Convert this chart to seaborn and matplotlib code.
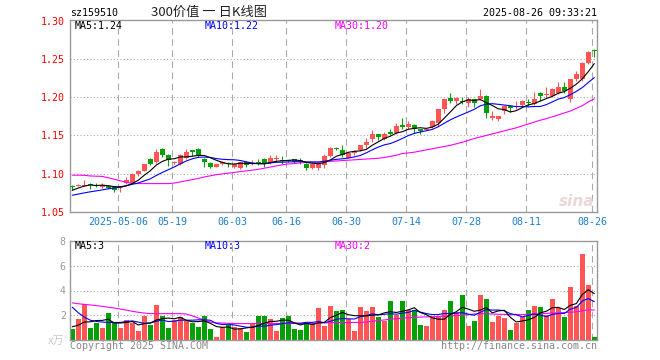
import numpy as np
import pandas as pd
import matplotlib
matplotlib.use("Agg")
import matplotlib.pyplot as plt
import seaborn as sns

sns.set_style("white")
plt.rcParams['font.family'] = ['DejaVu Sans Mono', 'Noto Sans CJK SC']

# ---------------- data ----------------
opens = [1.083, 1.084, 1.084, 1.086, 1.085, 1.082, 1.084, 1.082, 1.081, 1.087,
         1.087, 1.099, 1.1035, 1.119, 1.1155, 1.132, 1.124, 1.114, 1.112, 1.120,
         1.1305, 1.132, 1.119, 1.114, 1.109, 1.112, 1.114, 1.108, 1.107, 1.1155,
         1.113, 1.1145, 1.119, 1.1135, 1.1195, 1.118, 1.117, 1.1185, 1.1175, 1.113,
         1.1066, 1.1066, 1.1118, 1.1232, 1.1325, 1.1307, 1.121, 1.1263, 1.1307, 1.1373,
         1.1447, 1.1513, 1.1452, 1.1544, 1.1526, 1.1636, 1.1605, 1.1636, 1.1579, 1.157,
         1.1605, 1.1667, 1.1842, 1.1996, 1.1952, 1.1952, 1.193, 1.1974, 1.1974, 1.2018,
         1.1724, 1.1711, 1.182, 1.189, 1.1868, 1.1899, 1.1934, 1.1908, 1.2061, 1.203,
         1.2018, 1.2053, 1.2132, 1.1974, 1.2237, 1.2237, 1.2447, 1.2614]
highs = [1.085, 1.086, 1.091, 1.088, 1.088, 1.087, 1.085, 1.083, 1.084, 1.096,
         1.101, 1.104, 1.113, 1.120, 1.132, 1.133, 1.125, 1.116, 1.125, 1.132,
         1.131, 1.1335, 1.120, 1.115, 1.113, 1.117, 1.115, 1.114, 1.115, 1.116,
         1.1175, 1.119, 1.120, 1.1245, 1.124, 1.123, 1.118, 1.119, 1.1205, 1.1135,
         1.113, 1.113, 1.1254, 1.1345, 1.135, 1.1373, 1.127, 1.131, 1.137, 1.146,
         1.157, 1.152, 1.1548, 1.158, 1.1667, 1.1724, 1.1689, 1.165, 1.158, 1.1585,
         1.170, 1.185, 1.198, 1.2061, 1.200, 1.200, 1.200, 1.198, 1.2105, 1.2025,
         1.1825, 1.176, 1.189, 1.190, 1.1956, 1.197, 1.1978, 1.2066, 1.207, 1.214,
         1.212, 1.2197, 1.2206, 1.224, 1.2351, 1.246, 1.2614, 1.2636]
lows = [1.079, 1.083, 1.083, 1.080, 1.082, 1.081, 1.080, 1.076, 1.076, 1.086,
        1.086, 1.097, 1.103, 1.111, 1.114, 1.122, 1.110, 1.113, 1.111, 1.119,
        1.123, 1.122, 1.108, 1.107, 1.108, 1.111, 1.108, 1.107, 1.106, 1.109,
        1.111, 1.111, 1.109, 1.113, 1.1155, 1.112, 1.115, 1.114, 1.1125, 1.104,
        1.106, 1.104, 1.1066, 1.122, 1.1305, 1.122, 1.120, 1.1245, 1.130, 1.133,
        1.1417, 1.1439, 1.1445, 1.150, 1.152, 1.158, 1.159, 1.1535, 1.1513, 1.1565,
        1.160, 1.1605, 1.179, 1.193, 1.191, 1.191, 1.1877, 1.1877, 1.196, 1.1732,
        1.170, 1.169, 1.178, 1.1811, 1.185, 1.189, 1.189, 1.1899, 1.1956, 1.1987,
        1.201, 1.204, 1.2053, 1.1943, 1.222, 1.222, 1.244, 1.2535]
closes = [1.082, 1.085, 1.085, 1.085, 1.084, 1.085, 1.081, 1.079, 1.083, 1.091,
          1.100, 1.103, 1.112, 1.112, 1.1285, 1.124, 1.1175, 1.115, 1.124, 1.1285,
          1.1285, 1.123, 1.1145, 1.109, 1.112, 1.115, 1.113, 1.113, 1.1145, 1.111,
          1.114, 1.113, 1.1125, 1.121, 1.120, 1.117, 1.116, 1.115, 1.117, 1.1075,
          1.1123, 1.1123, 1.1228, 1.1338, 1.1322, 1.1241, 1.1263, 1.1293, 1.1368, 1.1417,
          1.1518, 1.1482, 1.1518, 1.1513, 1.1623, 1.1605, 1.1645, 1.1579, 1.1553, 1.158,
          1.1689, 1.1842, 1.1974, 1.1952, 1.1996, 1.194, 1.1974, 1.193, 1.2018, 1.1789,
          1.1754, 1.1754, 1.1886, 1.1855, 1.1877, 1.1956, 1.193, 1.1974, 1.2022, 1.2035,
          1.2105, 1.2132, 1.2083, 1.2237, 1.2307, 1.2456, 1.2601, 1.2610]
volumes = [0.91, 1.68, 2.93, 0.96, 1.39, 0.96, 2.16, 1.39, 0.96, 1.60,
           1.39, 0.72, 1.95, 1.20, 2.80, 1.95, 0.96, 1.65, 1.85, 1.55,
           1.36, 1.04, 1.92, 0.88, 0.24, 1.04, 1.20, 1.04, 0.96, 0.64,
           1.33, 1.92, 1.92, 1.68, 0.72, 1.76, 1.92, 0.88, 0.80, 1.36,
           1.28, 2.56, 1.12, 2.72, 2.32, 2.40, 1.68, 0.72, 2.64, 2.32,
           2.64, 1.84, 1.52, 3.12, 2.00, 3.12, 2.40, 2.40, 1.20, 1.12,
           1.84, 1.84, 2.40, 3.12, 2.24, 3.60, 1.12, 1.52, 3.60, 3.28,
           1.44, 1.92, 1.76, 0.80, 1.36, 1.84, 2.40, 2.72, 2.64, 2.00,
           3.28, 2.56, 1.84, 4.32, 2.72, 6.96, 4.48, 0.24]

# moving-average values at the start of the window (depend on earlier history)
ma5_lead = [1.078, 1.081, 1.0835, 1.085]
ma10_lead = [1.0715, 1.073, 1.0746, 1.076, 1.0772, 1.0785, 1.080, 1.081, 1.0825]
ma30 = [1.0978, 1.0978, 1.0976, 1.0968, 1.0965, 1.0962, 1.0945, 1.0925, 1.0905, 1.0885,
        1.0870, 1.0868, 1.0868, 1.0868, 1.0868, 1.0868, 1.0868, 1.0875, 1.0890, 1.0905,
        1.0920, 1.0935, 1.0955, 1.0970, 1.0985, 1.0995, 1.1005, 1.1015, 1.1025, 1.1035,
        1.1045, 1.1055, 1.1070, 1.1085, 1.1100, 1.1115, 1.1125, 1.1130, 1.1140, 1.1145,
        1.1150, 1.1150, 1.1155, 1.1160, 1.1165, 1.1170, 1.1175, 1.1180, 1.1185, 1.1190,
        1.1195, 1.1200, 1.1210, 1.1225, 1.1240, 1.1263, 1.1270, 1.1280, 1.1295, 1.1310,
        1.1325, 1.1340, 1.1355, 1.1370, 1.1390, 1.1410, 1.1435, 1.1460, 1.1480, 1.1500,
        1.1520, 1.1540, 1.1560, 1.1580, 1.1600, 1.1625, 1.1650, 1.1675, 1.1700, 1.1720,
        1.1745, 1.1770, 1.1795, 1.1820, 1.1855, 1.1890, 1.1940, 1.1980]
vol_ma5_lead = [1.07, 1.20, 1.45, 1.47]
vol_ma10_lead = [2.65, 2.20, 1.85, 1.60, 1.50, 1.45, 1.42, 1.41, 1.42]
vol_ma30 = [3.00, 2.93, 2.88, 2.83, 2.78, 2.72, 2.65, 2.58, 2.50, 2.42,
            2.32, 2.24, 2.18, 2.13, 2.13, 2.13, 2.13, 2.13, 2.13, 2.10,
            1.95, 1.78, 1.60, 1.45, 1.39, 1.37, 1.35, 1.33, 1.33, 1.33,
            1.33, 1.33, 1.33, 1.33, 1.33, 1.33, 1.33, 1.33, 1.33, 1.33,
            1.33, 1.35, 1.38, 1.40, 1.41, 1.41, 1.41, 1.42, 1.42, 1.45,
            1.52, 1.57, 1.62, 1.68, 1.72, 1.76, 1.80, 1.83, 1.85, 1.87,
            1.88, 1.90, 1.92, 1.95, 1.98, 2.00, 2.05, 2.10, 2.13, 2.12,
            2.10, 2.08, 2.07, 2.05, 2.05, 2.06, 2.08, 2.10, 2.12, 2.15,
            2.18, 2.20, 2.22, 2.24, 2.28, 2.35, 2.45, 2.42]

holidays = ["2025-05-01", "2025-05-02", "2025-05-05", "2025-06-02"]
tick_dates = ["2025-05-06", "2025-05-19", "2025-06-03", "2025-06-16", "2025-06-30",
              "2025-07-14", "2025-07-28", "2025-08-11", "2025-08-26"]
tick_labels = ["2025-05-06", "05-19", "06-03", "06-16", "06-30",
               "07-14", "07-28", "08-11", "08-26"]
price_ticks = [1.05, 1.10, 1.15, 1.20, 1.25, 1.30]
vol_ticks = [2, 4, 6, 8]
price_legend = ["MA5:1.24", "MA10:1.22", "MA30:1.20"]
vol_legend = ["MA5:3", "MA10:3", "MA30:2"]

# ---------------- derived ----------------
dates = pd.bdate_range("2025-04-21", "2025-08-26")
dates = dates[~dates.isin(pd.to_datetime(holidays))]
date_str = [d.strftime("%Y-%m-%d") for d in dates]
n = len(closes)
idx = np.arange(n)

o = np.array(opens); c = np.array(closes); h = np.array(highs); l = np.array(lows)
v = np.array(volumes)
up = c >= o

ma5 = pd.Series(c).rolling(5).mean().to_numpy()
ma5[:len(ma5_lead)] = ma5_lead
ma10 = pd.Series(c).rolling(10).mean().to_numpy()
ma10[:len(ma10_lead)] = ma10_lead
vma5 = pd.Series(v).rolling(5).mean().to_numpy()
vma5[:len(vol_ma5_lead)] = vol_ma5_lead
vma10 = pd.Series(v).rolling(10).mean().to_numpy()
vma10[:len(vol_ma10_lead)] = vol_ma10_lead

RED = "#ff5555"
GREEN = "#05a005"
GRID = "#aaaaaa"
SPINE = "#999999"
BLUE_TXT = "#1a7fd0"
LW = 0.8

W, H = 660, 360
fig = plt.figure(figsize=(6.6, 3.6), dpi=100)
fig.patch.set_facecolor("white")
axp = fig.add_axes([70 / W, 1 - 212 / H, 527 / W, 192 / H])
axv = fig.add_axes([70 / W, 1 - 340 / H, 527 / W, 99 / H])

xlim = (-0.38, n - 1 + 0.45)
tick_pos = [date_str.index(d) - 0.33 for d in tick_dates]

for ax in (axp, axv):
    ax.set_xlim(*xlim)
    for s in ax.spines.values():
        s.set_color(SPINE)
        s.set_linewidth(1.0)
    for tp in tick_pos:
        ax.axvline(tp, color=GRID, lw=0.8, ls=(0, (6, 4)), zorder=0)

# price panel
for p in price_ticks[1:-1]:
    axp.axhline(p, color=GRID, lw=0.8, ls=(0, (1, 2)), zorder=0)

cols = np.where(up, RED, GREEN)
axp.vlines(idx, l, h, colors=cols, lw=LW, zorder=2)
body_bottom = np.minimum(o, c)
body_h = np.maximum(np.abs(c - o), 0.0012)
axp.bar(idx, body_h, bottom=body_bottom, width=0.83, color=cols, lw=0, zorder=3)

sns.lineplot(x=idx, y=ma30, color="#ff00ff", lw=LW, ax=axp, zorder=4, estimator=None, sort=False)
sns.lineplot(x=idx, y=ma10, color="#0000ff", lw=LW, ax=axp, zorder=5, estimator=None, sort=False)
sns.lineplot(x=idx, y=ma5, color="black", lw=LW, ax=axp, zorder=6, estimator=None, sort=False)

axp.set_ylim(1.0495, 1.3015)
axp.set_yticks(price_ticks)
axp.set_yticklabels([f"{p:.2f}" for p in price_ticks], color="red", fontsize=7.2)
axp.set_xticks(tick_pos)
axp.set_xticklabels(tick_labels, color=BLUE_TXT, fontsize=7.2)
axp.tick_params(axis="both", length=0)
axp.tick_params(axis="y", pad=3.5)
axp.tick_params(axis="x", pad=3.5)
axp.set_xlabel(""); axp.set_ylabel("")

# volume panel
for p in vol_ticks[:-1]:
    axv.axhline(p, color=GRID, lw=0.8, ls=(0, (1, 2)), zorder=0)

vdf = pd.DataFrame({"i": idx, "v": v, "dir": np.where(up, "up", "down")})
sns.barplot(data=vdf, x="i", y="v", hue="dir", palette={"up": RED, "down": GREEN},
            native_scale=True, dodge=False, width=0.83, saturation=1,
            legend=False, errorbar=None, linewidth=0, ax=axv, zorder=2)

sns.lineplot(x=idx, y=vol_ma30, color="#ff00ff", lw=LW, ax=axv, zorder=4, estimator=None, sort=False)
sns.lineplot(x=idx, y=vma10, color="#0000ff", lw=LW, ax=axv, zorder=5, estimator=None, sort=False)
sns.lineplot(x=idx, y=vma5, color="black", lw=LW, ax=axv, zorder=6, estimator=None, sort=False)

axv.set_xlim(*xlim)
axv.set_ylim(0, 8)
axv.set_yticks(vol_ticks)
axv.set_yticklabels([str(t) for t in vol_ticks], color="#999999", fontsize=7.2)
axv.set_xticks([])
axv.tick_params(axis="both", length=0)
axv.tick_params(axis="y", pad=3)
axv.set_xlabel(""); axv.set_ylabel("")

# ---------------- texts ----------------
def ftext(x, y, s, **kw):
    fig.text(x / W, 1 - y / H, s, **kw)

ftext(70, 13, "sz159510", ha="left", va="center", fontsize=7.2, color="black")
ftext(209, 12.5, "300价值 一 日K线图", ha="center", va="center", fontsize=9.5,
      color="#222222", family=["Noto Sans CJK SC", "DejaVu Sans"])
ftext(597, 13, "2025-08-26 09:33:21", ha="right", va="center", fontsize=7.2, color="black")

leg_x = [75, 205, 335]
leg_c = ["black", "#0000ff", "#ff00ff"]
for x, s, col in zip(leg_x, price_legend, leg_c):
    ftext(x, 26, s, ha="left", va="center", fontsize=7.2, color=col)
for x, s, col in zip(leg_x, vol_legend, leg_c):
    ftext(x, 246, s, ha="left", va="center", fontsize=7.2, color=col)

ftext(64, 341, "x万", ha="right", va="center", fontsize=8, color="#c8c8c8",
      family=["Noto Sans CJK SC", "DejaVu Sans"])
ftext(70, 346, "Copyright 2025 SINA.COM", ha="left", va="center", fontsize=7.2, color="#888888")
ftext(597, 346, "http://finance.sina.com.cn", ha="right", va="center", fontsize=7.2, color="#888888")
ftext(594, 202, "sina", ha="right", va="center", fontsize=11, color="#ead8d8",
      family=["DejaVu Sans"], fontweight="bold", style="italic")

fig.savefig("out.png", dpi=100, facecolor="white")
